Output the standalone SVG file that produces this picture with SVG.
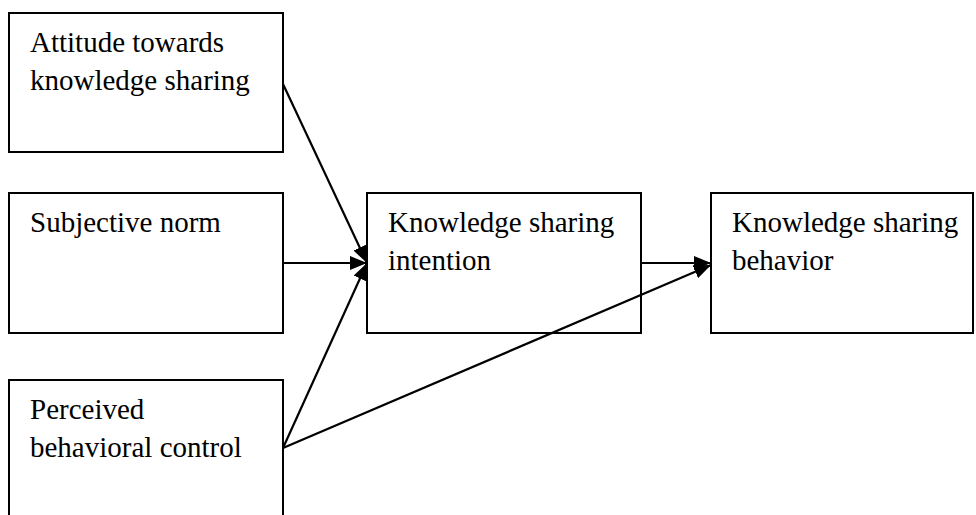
<svg xmlns="http://www.w3.org/2000/svg" width="976" height="515" viewBox="0 0 976 515">
<style>
.box{fill:#fff;stroke:#000;stroke-width:2}
.t{font-family:"Liberation Serif","Times New Roman",serif;font-size:29px;fill:#000}
.c{stroke:#000;stroke-width:2.2;fill:none}
</style>
<defs>
<marker id="ah" markerUnits="userSpaceOnUse" markerWidth="18" markerHeight="14" viewBox="0 0 18 14" refX="17" refY="7" orient="auto">
<path d="M0,0 L17,7 L0,14 z" fill="#000"/>
</marker>
</defs>
<rect width="976" height="515" fill="#fff"/>
<g id="attitude">
<rect class="box" x="9" y="13" width="274" height="139"/>
<text class="t" x="30" y="52">Attitude towards</text>
<text class="t" x="30" y="90">knowledge sharing</text>
</g>
<g id="norm">
<rect class="box" x="9" y="193" width="274" height="140"/>
<text class="t" x="30" y="232">Subjective norm</text>
</g>
<g id="pbc">
<rect class="box" x="9" y="380" width="274" height="150"/>
<text class="t" x="30" y="419">Perceived</text>
<text class="t" x="30" y="457">behavioral control</text>
</g>
<g id="intention">
<rect class="box" x="367" y="193" width="274" height="140"/>
<text class="t" x="388" y="232">Knowledge sharing</text>
<text class="t" x="388" y="270">intention</text>
</g>
<g id="behavior">
<rect class="box" x="711" y="193" width="262" height="140"/>
<text class="t" x="732" y="232">Knowledge sharing</text>
<text class="t" x="732" y="270">behavior</text>
</g>
<g id="connectors">
<line class="c" x1="283" y1="84" x2="367" y2="263" marker-end="url(#ah)"/>
<line class="c" x1="283" y1="263" x2="367" y2="263" marker-end="url(#ah)"/>
<line class="c" x1="283" y1="448" x2="367" y2="263" marker-end="url(#ah)"/>
<line class="c" x1="641" y1="263" x2="711" y2="263" marker-end="url(#ah)"/>
<line class="c" x1="283" y1="448" x2="711" y2="265" marker-end="url(#ah)"/>
</g>
</svg>
